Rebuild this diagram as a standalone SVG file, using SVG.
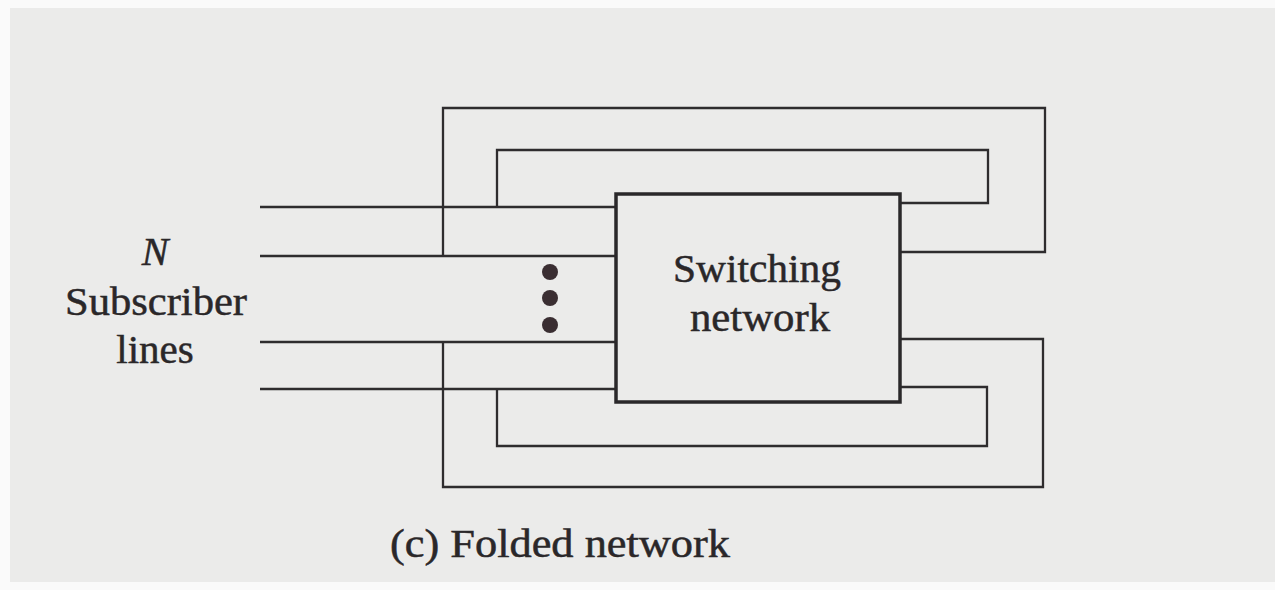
<svg xmlns="http://www.w3.org/2000/svg" width="1275" height="590" viewBox="0 0 1275 590">
<style>
.w{fill:none;stroke:#2e2c2e;stroke-width:2.3;stroke-linejoin:miter}
.t{font-family:"Liberation Serif","Times New Roman",serif;fill:#2a2729;stroke:#2a2729;stroke-width:0.5}
</style>
<rect x="0" y="0" width="1275" height="590" fill="#fafafa"/>
<rect x="10" y="8" width="1265" height="574" fill="#ebebea"/>
<g id="connectors">
<path class="w" d="M260 207 H616"/>
<path class="w" d="M260 256 H616"/>
<path class="w" d="M260 342 H616"/>
<path class="w" d="M260 389 H616"/>
<path class="w" d="M443 256 V108 H1045 V252 H900"/>
<path class="w" d="M497 207 V150 H988 V203 H900"/>
<path class="w" d="M443 342 V487 H1043 V339 H900"/>
<path class="w" d="M497 389 V446 H987 V387 H900"/>
</g>
<g id="switching-network">
<rect x="616" y="194" width="284" height="208" fill="#ebebea" stroke="#2a282a" stroke-width="3.5"/>
<text class="t" x="757" y="282" font-size="40" text-anchor="middle" textLength="168" lengthAdjust="spacingAndGlyphs">Switching</text>
<text class="t" x="760" y="331" font-size="40" text-anchor="middle" textLength="140" lengthAdjust="spacingAndGlyphs">network</text>
</g>
<g id="dots">
<circle cx="550" cy="272" r="8" fill="#3a2e32"/>
<circle cx="550" cy="298" r="8" fill="#3a2e32"/>
<circle cx="550" cy="325" r="8" fill="#3a2e32"/>
</g>
<g id="subscriber-label">
<text class="t" x="155" y="265" font-size="40" font-style="italic" text-anchor="middle">N</text>
<text class="t" x="156" y="315" font-size="41" text-anchor="middle" textLength="182" lengthAdjust="spacingAndGlyphs">Subscriber</text>
<text class="t" x="155" y="363" font-size="41" text-anchor="middle">lines</text>
</g>
<g id="caption">
<text class="t" x="560" y="557" font-size="39" text-anchor="middle" textLength="340" lengthAdjust="spacingAndGlyphs">(c) Folded network</text>
</g>
</svg>
